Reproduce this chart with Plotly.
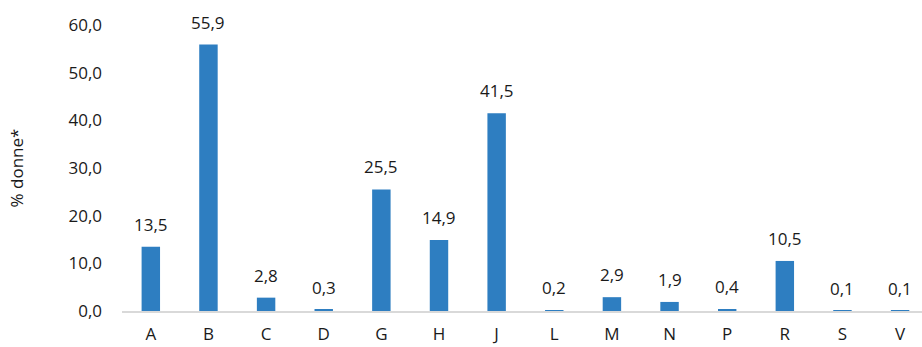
import plotly.graph_objects as go

categories = ["A", "B", "C", "D", "G", "H", "J", "L", "M", "N", "P", "R", "S", "V"]
values = [13.5, 55.9, 2.8, 0.3, 25.5, 14.9, 41.5, 0.2, 2.9, 1.9, 0.4, 10.5, 0.1, 0.1]
y_title = "% donne*"

font_family = "Open Sans, Noto Sans, sans-serif"
bar_color = "#2E7EC1"
fs = 17

fig = go.Figure()
fig.add_trace(go.Bar(
    x=list(range(len(categories))),
    y=values,
    marker=dict(color=bar_color, line=dict(width=0)),
    width=0.32,
    hoverinfo="skip",
))

for i, v in enumerate(values):
    fig.add_annotation(
        x=i, y=v, text=f"{v:.1f}".replace(".", ","),
        showarrow=False, yanchor="bottom", yshift=9,
        font=dict(family=font_family, size=fs, color="#1a1a1a"),
    )

fig.update_layout(
    width=922, height=347,
    margin=dict(l=122, r=0, t=25, b=36),
    paper_bgcolor="white", plot_bgcolor="white",
    separators=",.",
    showlegend=False,
    font=dict(family=font_family, size=fs, color="#1a1a1a"),
    xaxis=dict(
        tickmode="array",
        tickvals=list(range(len(categories))),
        ticktext=categories,
        range=[-0.5, 13.38],
        showline=True, linecolor="#D9D9D9", linewidth=1.5,
        showgrid=False, zeroline=False, ticks="", ticklen=0,
        tickfont=dict(size=fs), ticklabelstandoff=7, automargin=False,
    ),
    yaxis=dict(
        range=[0, 60], dtick=10, tickformat=".1f",
        showgrid=False, zeroline=False, showline=False,
        ticks="", tickfont=dict(size=fs), ticklabelstandoff=19,
        title=dict(text=y_title, font=dict(size=fs), standoff=40),
        automargin=False,
    ),
)

fig.write_html("out.html")
